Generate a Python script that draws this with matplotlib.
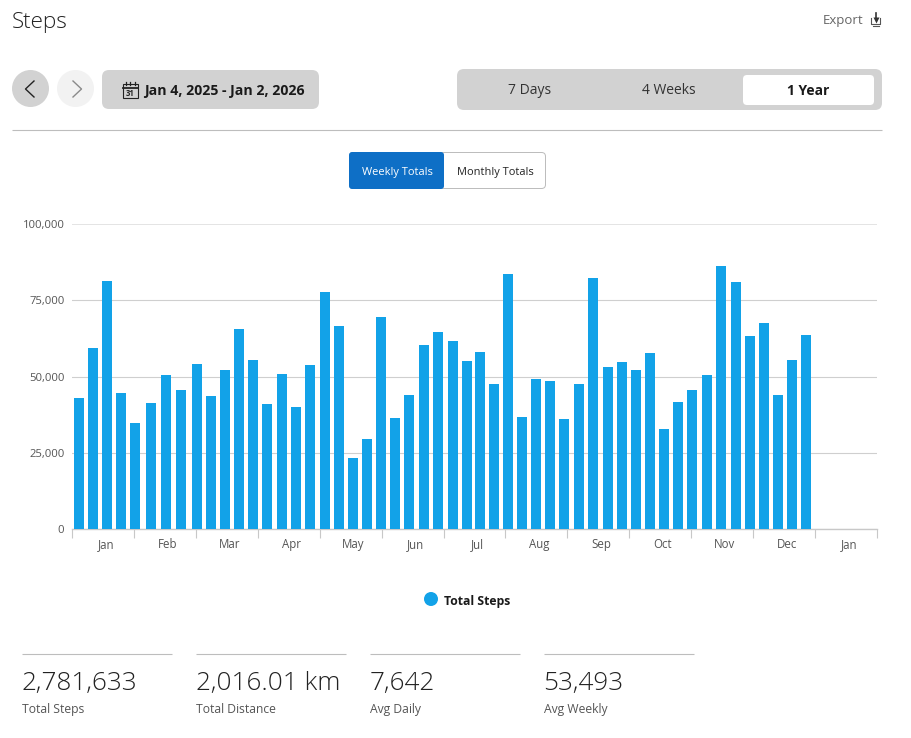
import matplotlib
matplotlib.use("Agg")
import matplotlib.pyplot as plt
import numpy as np
import pandas as pd
from matplotlib.patches import FancyBboxPatch, Circle, Rectangle
from matplotlib.ticker import FuncFormatter

plt.rcParams['font.family'] = ['Open Sans', 'DejaVu Sans']

W, H = 911, 738

# weekly step totals
weeklySteps = [
    43000, 59300, 81300, 44700, 34800, 41200, 50500, 45500, 54000, 43700,
    52000, 65700, 55300, 41000, 50900, 39900, 53800, 77800, 66400, 23300,
    29400, 69400, 36500, 43800, 60300, 64600, 61700, 55100, 58000, 47500,
    83600, 36600, 49100, 48600, 36100, 47500, 82400, 53200, 54800, 52000,
    57600, 32800, 41600, 45500, 50400, 86100, 81000, 63400, 67400, 43900,
    55500, 63500
]
firstWeek = "2025-01-04"
months = ["Jan", "Feb", "Mar", "Apr", "May", "Jun", "Jul",
          "Aug", "Sep", "Oct", "Nov", "Dec", "Jan"]
yTicks = [0, 25000, 50000, 75000, 100000]

statValues = ["2,781,633", "2,016.01 km", "7,642", "53,493"]
statLabels = ["Total Steps", "Total Distance", "Avg Daily", "Avg Weekly"]
rangeLabels = ["7 Days", "4 Weeks", "1 Year"]

BAR_COLOR = "#12A2E8"
GRID_COLOR = "#CFCFCF"
PILL_COLOR = "#D2D2D2"
TEXT_DARK = "#1A1A1A"
TEXT_GREY = "#555555"

fig = plt.figure(figsize=(W / 100, H / 100), dpi=100, facecolor="white")

# page layer, in pixel coordinates
ui = fig.add_axes([0, 0, 1, 1], zorder=0)
ui.set_xlim(0, W)
ui.set_ylim(H, 0)
ui.axis("off")


def roundBox(x, y, w, h, r, color, edge="none", lw=0, z=1):
    ui.add_patch(FancyBboxPatch((x + r, y + r), w - 2 * r, h - 2 * r,
                                boxstyle="round,pad=%f,rounding_size=%f" % (r, r),
                                facecolor=color, edgecolor=edge, linewidth=lw, zorder=z))


def hairline(x0, x1, y):
    ui.plot([x0, x1], [y, y], color="#BDBDBD", lw=0.8, solid_capstyle="butt")


# header
ui.text(12, 22.5, "Steps", fontsize=16.2, color="#222222", va="center", ha="left", fontweight="light")
ui.text(863, 20.5, "Export", fontsize=9.5, color="#666666", va="center", ha="right")
ui.plot([871, 871, 880, 880], [18, 23.5, 23.5, 18], color="#555555", lw=0.8)
ui.plot([875.5, 875.5], [13, 18], color="#333333", lw=1.2)
ui.plot([875.5], [19.5], marker="v", ms=4.5, color="#333333", mec="none")
ui.plot([872.5, 878.5], [25.5, 25.5], color="#555555", lw=0.8)

# back / forward buttons
ui.add_patch(Circle((30.5, 88.5), 18.5, facecolor=PILL_COLOR, edgecolor="none"))
ui.add_patch(Circle((75.5, 88.5), 18.5, facecolor="#F2F2F2", edgecolor="none"))
ui.plot([34, 25.5, 34], [81, 89, 97], color="#222222", lw=1)
ui.plot([73, 81.5, 73], [81, 89, 97], color="#8A8A8A", lw=1)

# date range button
roundBox(102, 70, 217, 39, 7, PILL_COLOR)
ui.add_patch(Rectangle((123, 84), 14.5, 14, facecolor="none", edgecolor="#222222", lw=0.8))
ui.plot([123, 137.5], [87.5, 87.5], color="#222222", lw=1.3)
for cx in [126, 130.2, 134.5]:
    ui.plot([cx, cx], [81.5, 85], color="#222222", lw=0.9)
ui.text(130.2, 93.6, "31", fontsize=5.5, color="#222222", ha="center", va="center", fontweight="bold")
ui.text(144, 91, "Jan 4, 2025 - Jan 2, 2026", fontsize=10.15, color=TEXT_DARK, va="center",
        ha="left", fontweight="bold")

# range selector
roundBox(457, 69, 425, 41, 7, PILL_COLOR)
roundBox(743, 75, 131, 30, 4, "white", z=2)
ui.text(530, 91, rangeLabels[0], fontsize=10, color="#333333", ha="center", va="center", zorder=3)
ui.text(669, 91, rangeLabels[1], fontsize=10, color="#333333", ha="center", va="center", zorder=3)
ui.text(808, 91, rangeLabels[2], fontsize=10, color=TEXT_DARK, ha="center", va="center",
        fontweight="bold", zorder=3)

hairline(12, 882, 130)

# weekly / monthly toggle
roundBox(440, 152.5, 105.5, 36, 4, "white", edge="#BBBBBB", lw=0.7)
roundBox(349, 152, 95, 37, 3, "#0E6FC6", z=2)
ui.text(397, 172, "Weekly Totals", fontsize=7.9, color="white", ha="center", va="center", zorder=3)
ui.text(495, 172, "Monthly Totals", fontsize=7.9, color="#222222", ha="center", va="center", zorder=3)

# legend
ui.add_patch(Circle((431, 599), 7, facecolor=BAR_COLOR, edgecolor="none"))
ui.text(444, 601, "Total Steps", fontsize=8.8, color=TEXT_DARK, va="center", ha="left", fontweight="bold")

# summary numbers
for i in range(len(statValues)):
    x0 = 22 + i * 174
    hairline(x0, x0 + 150, 654)
    ui.text(x0 - 0.5, 683.5, statValues[i], fontsize=18.8, color="#222222", va="center", ha="left", fontweight="light")
    ui.text(x0, 709.5, statLabels[i], fontsize=8.7, color=TEXT_GREY, va="center", ha="left")

# chart, plot area spans x 72-877 and y 224-529 in pixels
ax = fig.add_axes([72 / W, 1 - 529 / H, (877 - 72) / W, (529 - 224) / H], zorder=1)
ax.patch.set_alpha(0)

# each month gets one equal band, so a bar sits by its date inside the band
weekStarts = pd.date_range(firstWeek, periods=len(weeklySteps), freq="7D")
weekPos = (weekStarts.month - 1) + (weekStarts.day - 0.5) / weekStarts.days_in_month

bandPixels = (877 - 72) / len(months)
ax.bar(weekPos, weeklySteps, width=10 / bandPixels, color=BAR_COLOR, zorder=3)

ax.set_xlim(0, len(months))
ax.set_ylim(0, 100000)

ax.set_yticks(yTicks)
ax.yaxis.set_major_formatter(FuncFormatter(lambda v, pos: format(int(v), ",")))
ax.grid(True, axis="y", color=GRID_COLOR, lw=0.8, zorder=0)
ax.tick_params(axis="y", length=0, pad=5.5, labelsize=8.1, labelcolor=TEXT_GREY)
ax.get_ygridlines()[-1].set_color("#E2E2E2")
ax.get_ygridlines()[-1].set_linewidth(1.3)

# month ticks are the band edges, labels sit a touch right of the middle
ax.set_xticks(np.arange(len(months) + 1))
ax.set_xticklabels([])
ax.tick_params(axis="x", length=6.7, width=0.8, color="#C8C8C8", direction="out")
ax.set_xticks(np.arange(len(months)) + 0.545, minor=True)
ax.set_xticklabels(months, minor=True)
ax.tick_params(axis="x", which="minor", length=0, pad=6.5, labelsize=8.3, labelcolor=TEXT_GREY)

for side in ["top", "left", "right"]:
    ax.spines[side].set_visible(False)
ax.spines["bottom"].set_color("#C8C8C8")
ax.spines["bottom"].set_linewidth(1)

fig.savefig("out.png", dpi=100, facecolor="white")
